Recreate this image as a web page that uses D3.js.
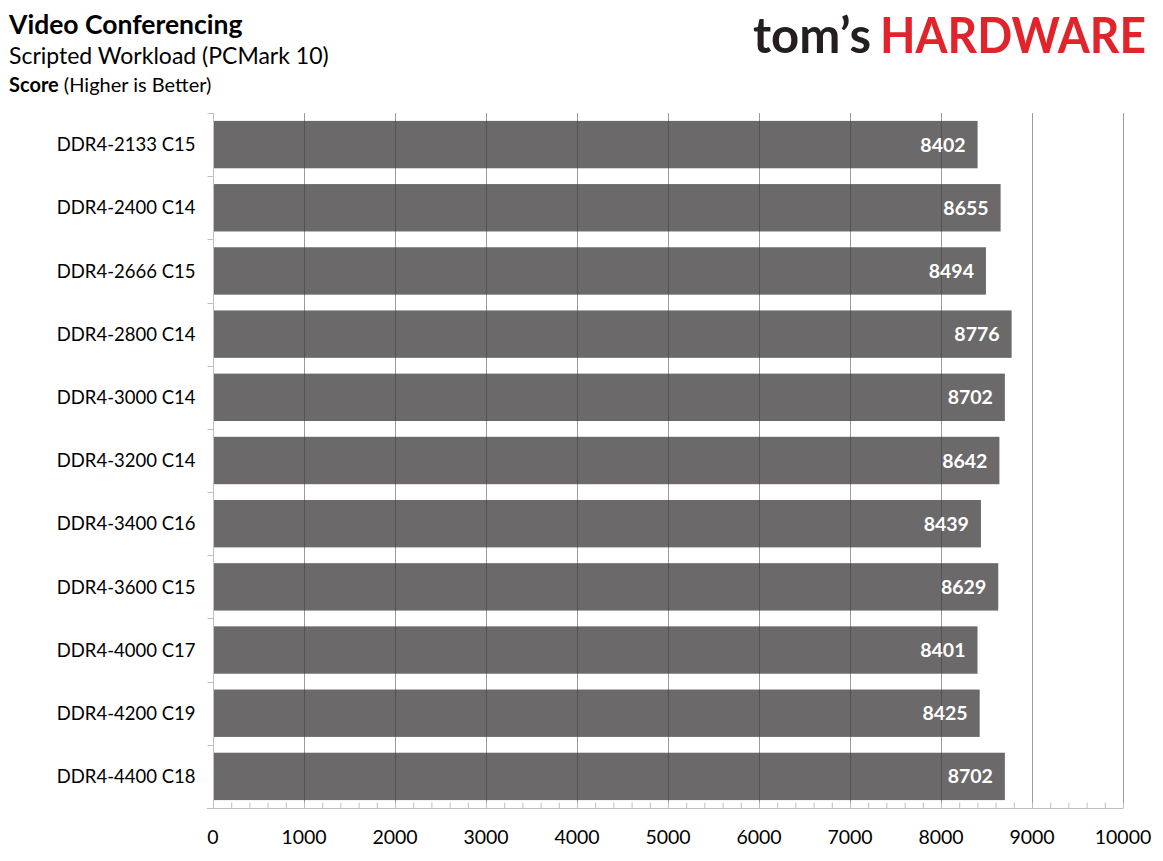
<!DOCTYPE html>
<html>
<head>
<meta charset="utf-8">
<script src="https://cdn.jsdelivr.net/npm/d3@7"></script>
<style>
body{margin:0;background:#fff;}
text{font-family:Lato,"Open Sans",sans-serif;}
</style>
</head>
<body>
<script>
// memory kits, top to bottom
var kits=["DDR4-2133 C15","DDR4-2400 C14","DDR4-2666 C15","DDR4-2800 C14","DDR4-3000 C14","DDR4-3200 C14","DDR4-3400 C16","DDR4-3600 C15","DDR4-4000 C17","DDR4-4200 C19","DDR4-4400 C18"]
var scores=[8402,8655,8494,8776,8702,8642,8439,8629,8401,8425,8702]
var xTicks=[0,1000,2000,3000,4000,5000,6000,7000,8000,9000,10000]

var W=1163,H=861
var plot={left:213,right:1123,top:113,bottom:808}

const svg=d3.select("body").append("svg").attr("width",W).attr("height",H)

// titles
svg.append("text").attr("x",9).attr("y",34).attr("font-size",26.5).attr("font-weight","bold").attr("fill","#000").text("Video Conferencing")
svg.append("text").attr("x",9).attr("y",64).attr("font-size",23).attr("fill","#000").text("Scripted Workload (PCMark 10)")
{
	let t=svg.append("text").attr("x",9).attr("y",92).attr("font-size",20).attr("fill","#000")
	t.append("tspan").attr("font-weight","bold").text("Score")
	t.append("tspan").text(" (Higher is Better)")
}

// logo
svg.append("text").attr("x",753).attr("y",53).attr("font-size",50).attr("font-weight","bold")
	.attr("fill","#231f20").attr("textLength",118).attr("lengthAdjust","spacingAndGlyphs").text("tom’s")
svg.append("text").attr("x",880).attr("y",53).attr("font-size",50).attr("font-weight","bold")
	.attr("fill","#e1232b").attr("textLength",266).attr("lengthAdjust","spacingAndGlyphs").text("HARDWARE")

var x=d3.scaleLinear().domain([0,10000]).range([plot.left,plot.right])
var y=d3.scaleBand().domain(kits).range([plot.top,plot.bottom]).paddingInner(0.25).paddingOuter(0.125)

// light grid behind
svg.append("g").selectAll("line").data(xTicks.slice(1)).join("line")
	.attr("x1",d=>x(d)+0.5).attr("x2",d=>x(d)+0.5).attr("y1",plot.top).attr("y2",plot.bottom)
	.attr("stroke","#c6c6c6").attr("stroke-width",1)

// bars
var data=kits.map((k,i)=>({kit:k,score:scores[i]}))
svg.append("g").selectAll("rect").data(data).join("rect")
	.attr("x",x(0)).attr("y",d=>y(d.kit)).attr("width",d=>x(d.score)-x(0)).attr("height",y.bandwidth())
	.attr("fill","#6b6969")

// grid over bars (darker)
svg.append("g").selectAll("line").data(xTicks.slice(1)).join("line")
	.attr("x1",d=>x(d)+0.5).attr("x2",d=>x(d)+0.5).attr("y1",plot.top).attr("y2",plot.bottom)
	.attr("stroke","#000").attr("stroke-opacity",0.22).attr("stroke-width",1)

// value labels
svg.append("g").selectAll("text").data(data).join("text")
	.attr("x",d=>x(d.score)-12).attr("y",d=>y(d.kit)+y.bandwidth()/2).attr("dy","0.36em")
	.attr("text-anchor","end").attr("font-size",19.5).attr("font-weight","bold").attr("fill","#fff")
	.text(d=>d.score)

// y axis
{
	let g=svg.append("g").attr("transform","translate("+(plot.left+0.5)+",0)")
	g.append("line").attr("y1",plot.top).attr("y2",plot.bottom).attr("stroke","#bfbfbf")
	let bounds=kits.map(k=>y(k)-y.step()*y.paddingInner()/2)
	bounds.push(plot.bottom)
	g.selectAll(".tk").data(bounds).join("line").attr("class","tk")
		.attr("x1",-6).attr("x2",0).attr("y1",d=>Math.round(d)+0.5).attr("y2",d=>Math.round(d)+0.5).attr("stroke","#bfbfbf")
	g.selectAll("text").data(kits).join("text")
		.attr("x",-18).attr("y",d=>y(d)+y.bandwidth()/2).attr("dy","0.36em")
		.attr("text-anchor","end").attr("font-size",18.5).attr("fill","#000").text(d=>d)
}

// x axis
{
	let g=svg.append("g").attr("transform","translate(0,"+(plot.bottom+0.5)+")")
	g.append("line").attr("x1",plot.left-6).attr("x2",plot.right).attr("stroke","#bfbfbf")
	g.selectAll(".mn").data(d3.range(0,10001,200)).join("line").attr("class","mn")
		.attr("x1",d=>x(d)+0.5).attr("x2",d=>x(d)+0.5).attr("y1",-6).attr("y2",0).attr("stroke","#bfbfbf")
	g.selectAll("text").data(xTicks).join("text")
		.attr("x",d=>x(d)).attr("y",35).attr("text-anchor","middle").attr("font-size",19.5).attr("fill","#000")
		.text(d=>d)
}
</script>
</body>
</html>
